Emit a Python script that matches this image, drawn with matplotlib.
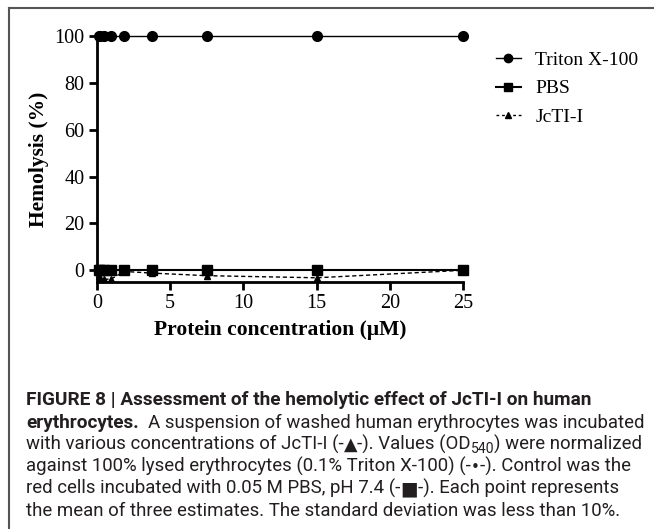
import matplotlib
matplotlib.use("Agg")
import matplotlib.pyplot as plt
from matplotlib.lines import Line2D

conc = [0.117, 0.234, 0.469, 0.938, 1.875, 3.75, 7.5, 15, 25]
triton = [100, 100, 100, 100, 100, 100, 100, 100, 100]
pbs = [0, 0, 0, 0, 0, 0, 0, 0, 0]
jcti = [-2.5, -3.5, -3.8, -3.8, -0.5, -1.2, -2.3, -3.2, 0]
xticks = [0, 5, 10, 15, 20, 25]
yticks = [0, 20, 40, 60, 80, 100]
series_names = ["Triton X-100", "PBS", "JcTI-I"]

W, H = 654, 529
fig = plt.figure(figsize=(W / 100, H / 100), dpi=100)
serif = "Liberation Serif"

ax = fig.add_axes([97 / W, 1 - 282 / H, (463 - 97) / W, (282 - 36) / H])
ax.plot(conc, triton, color="black", lw=1.0, marker="o", ms=7, clip_on=False, zorder=3)
ax.plot(conc, pbs, color="black", lw=1.5, marker="s", ms=7, clip_on=False, zorder=3)
ax.plot(conc, jcti, color="black", lw=1.0, ls=(0, (3, 2)), marker="^", ms=5, clip_on=False, zorder=3)

ax.set_xlim(0, 25)
ax.set_ylim(-5, 100)
ax.set_xticks(xticks)
ax.set_yticks(yticks)
for s in ["top", "right"]:
    ax.spines[s].set_visible(False)
for s in ["left", "bottom"]:
    ax.spines[s].set_linewidth(2)
ax.tick_params(width=2, length=6, direction="out", labelsize=14.5, pad=3)
for lab in ax.get_xticklabels() + ax.get_yticklabels():
    lab.set_family(serif)
ax.set_xlabel("Protein concentration (\u03bcM)", fontsize=15.5, fontweight="bold", family=serif, labelpad=5)
ax.set_ylabel("Hemolysis (%)", fontsize=15.5, fontweight="bold", family=serif, labelpad=4)

handles = [
    Line2D([], [], color="black", lw=1.0, marker="o", ms=6),
    Line2D([], [], color="black", lw=1.5, marker="s", ms=6),
    Line2D([], [], color="black", lw=1.0, ls=(0, (2, 2)), marker="^", ms=5),
]
leg = fig.legend(handles, series_names, loc="upper left", bbox_to_anchor=(478 / W, 1 - 34 / H),
                 frameon=False, prop={"family": serif, "size": 14}, handlelength=1.3,
                 handletextpad=0.75, labelspacing=0.55)

# frame
fig.add_artist(Line2D([9 / W, 9 / W], [0, 1 - 8 / H], color="#555555", lw=1.5, transform=fig.transFigure))
fig.add_artist(Line2D([9 / W, 1], [1 - 8 / H, 1 - 8 / H], color="#555555", lw=1.5, transform=fig.transFigure))

# caption
cap_font = "Roboto"
sym_font = "DejaVu Sans"
col = "#231f20"
X0 = 26
line_y = [405, 428, 450, 472, 494, 516]
r = fig.canvas.get_renderer()


def width_of(text, **kw):
    t = fig.text(0, 0, text, **kw)
    w = t.get_window_extent(r).width
    t.remove()
    return w


fs = 12 * 495 / width_of("A suspension of washed human erythrocytes was incubated",
                         family=cap_font, fontsize=12)
fsb = 12 * 566 / width_of("FIGURE 8 | Assessment of the hemolytic effect of JcTI-I on human",
                          family=cap_font, fontweight="bold", fontsize=12)


def draw_pieces(ypx, pieces, x=X0):
    for text, kw, gap, dy in pieces:
        x += gap
        props = dict(family=cap_font, fontsize=fs, color=col, va="baseline")
        props.update(kw)
        t = fig.text(x / W, 1 - (ypx - dy) / H, text, **props)
        x = t.get_window_extent(r).x1


draw_pieces(line_y[0], [("FIGURE 8 | Assessment of the hemolytic effect of JcTI-I on human",
                         dict(fontweight="bold", fontsize=fsb), 0, 0)])
draw_pieces(line_y[1], [("erythrocytes.", dict(fontweight="bold", fontsize=fsb), 0, 0),
                        ("A suspension of washed human erythrocytes was incubated", {}, 9, 0)])
draw_pieces(line_y[2], [("with various concentrations of JcTI-I (-", {}, 0, 0),
                        ("\u25b2", dict(family=sym_font, fontsize=fs * 0.95), 0, 0),
                        ("-). Values (OD", {}, 0, 0),
                        ("540", dict(fontsize=fs * 0.75), 0, -3),
                        (") were normalized", {}, 0, 0)])
draw_pieces(line_y[3], [("against 100% lysed erythrocytes (0.1% Triton X-100) (-", {}, 0, 0),
                        ("\u2022", dict(family=sym_font, fontsize=fs * 0.8), 0, 0),
                        ("-). Control was the", {}, 0, 0)])
draw_pieces(line_y[4], [("red cells incubated with 0.05 M PBS, pH 7.4 (-", {}, 0, 0),
                        ("\u25a0", dict(family=sym_font, fontsize=fs * 1.0), 0, 0),
                        ("-). Each point represents", {}, 0, 0)])
draw_pieces(line_y[5], [("the mean of three estimates. The standard deviation was less than 10%.", {}, 0, 0)])

fig.savefig("out.png", dpi=100)
